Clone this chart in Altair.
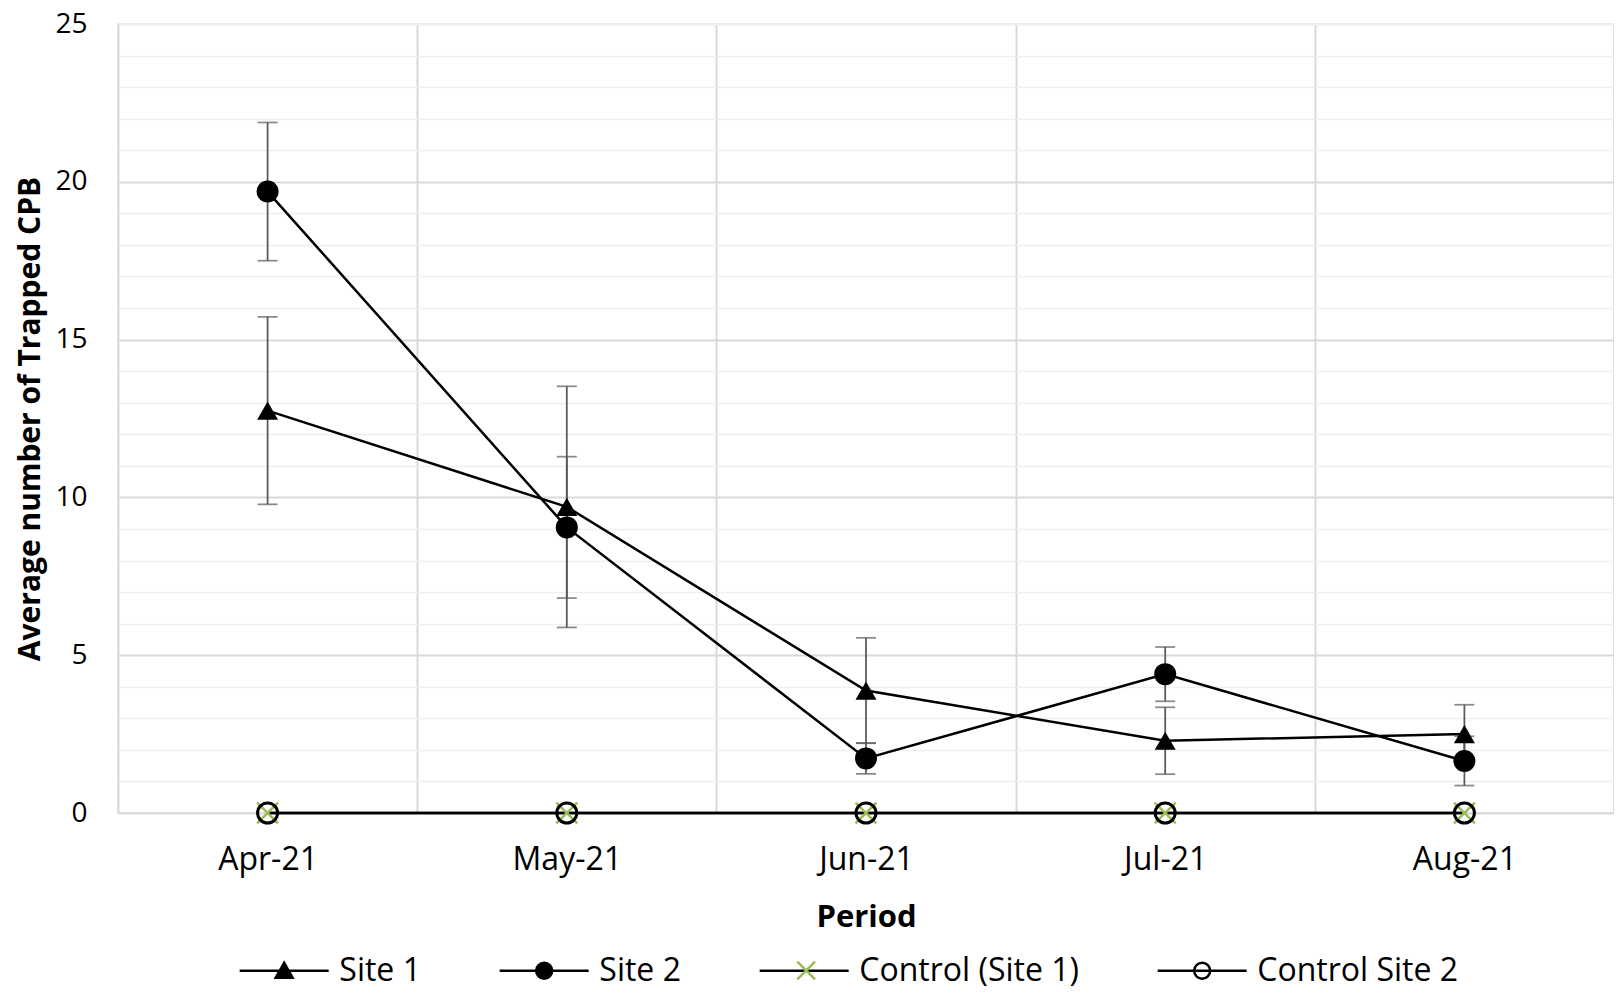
import altair as alt
import pandas as pd

months = ["Apr-21", "May-21", "Jun-21", "Jul-21", "Aug-21"]
series_names = ["Site 1", "Site 2", "Control (Site 1)", "Control Site 2"]
site1_mean = [12.75, 9.7, 3.88, 2.29, 2.5]
site1_err = [2.97, 3.82, 1.67, 1.06, 0.93]
site2_mean = [19.69, 9.05, 1.73, 4.4, 1.65]
site2_err = [2.19, 2.24, 0.49, 0.86, 0.78]
control1_mean = [0, 0, 0, 0, 0]
control1_err = [0, 0, 0, 0, 0]
control2_mean = [0, 0, 0, 0, 0]
control2_err = [0, 0, 0, 0, 0]

rows = []
for name, means, errs in zip(
    series_names,
    [site1_mean, site2_mean, control1_mean, control2_mean],
    [site1_err, site2_err, control1_err, control2_err],
):
    for m, v, e in zip(months, means, errs):
        rows.append({"month": m, "series": name, "value": v, "err": e})
df = pd.DataFrame(rows)

FONT = "Open Sans"
GREEN = "#9BBB59"
ERR = "#595959"

x_enc = alt.X(
    "month:N",
    sort=months,
    scale=alt.Scale(type="band", paddingInner=0, paddingOuter=0),
    title="Period",
    axis=alt.Axis(
        tickBand="extent",
        grid=True,
        gridColor="#d9d9d9",
        gridWidth=2,
        domain=False,
        ticks=False,
        tickSize=0,
        labelAngle=0,
        labelFont=FONT,
        labelFontSize=32,
        labelColor="black",
        labelPadding=46,
        labelBaseline="middle",
        titleFont=FONT,
        titleFontSize=31,
        titleFontWeight="bold",
        titleColor="black",
        titleY=104,
        titleBaseline="middle",
    ),
)

y_axis = alt.Axis(
    values=list(range(26)),
    grid=True,
    gridColor={
        "condition": {"test": "datum.value % 5 === 0 && datum.value < 25", "value": "#d9d9d9"},
        "value": "#efefef",
    },
    gridWidth={
        "condition": {"test": "datum.value % 5 === 0", "value": 2},
        "value": 1.5,
    },
    domain=False,
    ticks=False,
    tickSize=0,
    labelExpr="datum.value % 5 === 0 ? datum.label : ''",
    labelOverlap=False,
    labelFlush=False,
    labelFont=FONT,
    labelFontSize=28,
    labelColor="black",
    labelPadding=31,
    titleFont=FONT,
    titleFontSize=30,
    titleFontWeight="bold",
    titleColor="black",
    titleX=-88,
    titleBaseline="middle",
)
y_scale = alt.Scale(domain=[0, 25], nice=False, zero=True)
Y_TITLE = "Average number of Trapped CPB"


def y_enc(field):
    return alt.Y(field, type="quantitative", scale=y_scale, axis=y_axis, title=Y_TITLE)


base = alt.Chart(df)

err_df = base.transform_filter("datum.err > 0").transform_calculate(
    lo="datum.value - datum.err", hi="datum.value + datum.err"
)

err_rule = err_df.mark_rule(color=ERR, strokeWidth=1.75).encode(
    x=x_enc, y=y_enc("lo"), y2="hi:Q"
)
cap_lo = err_df.mark_tick(color=ERR, thickness=1.75, size=20, orient="horizontal").encode(
    x=x_enc, y=y_enc("lo")
)
cap_hi = err_df.mark_tick(color=ERR, thickness=1.75, size=20, orient="horizontal").encode(
    x=x_enc, y=y_enc("hi")
)

lines = base.mark_line(color="black", strokeWidth=2.5).encode(
    x=x_enc, y=y_enc("value"), detail="series:N"
)

pts_site1 = base.transform_filter(alt.datum.series == "Site 1").mark_point(
    shape="triangle-up", filled=True, color="black", size=441, opacity=1
).encode(x=x_enc, y=y_enc("value"))
pts_site2 = base.transform_filter(alt.datum.series == "Site 2").mark_point(
    shape="circle", filled=True, color="black", size=484, opacity=1
).encode(x=x_enc, y=y_enc("value"))
pts_c1 = base.transform_filter(alt.datum.series == "Control (Site 1)").mark_point(
    shape="M-1,-1L1,1M-1,1L1,-1", filled=False, stroke=GREEN, strokeWidth=2.5, size=440, opacity=1
).encode(x=x_enc, y=y_enc("value"))
pts_c2 = base.transform_filter(alt.datum.series == "Control Site 2").mark_point(
    shape="circle", filled=False, stroke="black", fill="transparent", strokeWidth=3, size=400, opacity=1
).encode(x=x_enc, y=y_enc("value"))

# ---- legend (guide only) ----
# symbol box is 1/3 of the drawn line length so the legend stays compact
K = 3.0
BOX = 89.0 / K
SYM = BOX * BOX
SHIFT = 44.5 - BOX / 2
LEG_X = 120 + SHIFT
LEG_Y = 930
COL_PAD = 73
LABEL_OFF = 9 + SHIFT


def sc(v):
    return f"{v * K:.4f}"


tri = f"M0,{sc(-0.18)}L{sc(0.19)},{sc(0.16)}L{sc(-0.19)},{sc(0.16)}Z"
r = sc(0.18)
circ = f"M{r},0A{r},{r},0,1,1,-{r},0A{r},{r},0,1,1,{r},0Z"
line_seg = f"M{sc(-1)},0H{sc(1)}"
legend_paths = [line_seg + tri, line_seg + circ, line_seg, line_seg + circ]

leg_main = alt.Legend(
    orient="none",
    legendX=LEG_X,
    legendY=LEG_Y,
    direction="horizontal",
    columns=4,
    title=None,
    symbolSize=SYM,
    symbolStrokeWidth=2.5,
    symbolOpacity=1,
    labelFont=FONT,
    labelFontSize=32,
    labelColor="black",
    labelOffset=LABEL_OFF,
    labelLimit=500,
    columnPadding=COL_PAD,
    rowPadding=0,
    padding=0,
)

leg_lines = base.transform_filter("datum.value < 0").mark_point(
    filled=False, color="black"
).encode(
    x=x_enc,
    y=y_enc("value"),
    shape=alt.Shape(
        "series:N",
        scale=alt.Scale(domain=series_names, range=legend_paths),
        legend=leg_main,
    ),
    fill=alt.Fill(
        "series:N",
        scale=alt.Scale(domain=series_names, range=["black", "black", "transparent", "transparent"]),
        legend=leg_main,
    ),
    stroke=alt.Stroke(
        "series:N",
        scale=alt.Scale(domain=series_names, range=["black", "black", "black", "black"]),
        legend=leg_main,
    ),
)

# green cross of the "Control (Site 1)" entry, laid over its line
x_mark = f"M{sc(-0.2)},{sc(-0.2)}L{sc(0.2)},{sc(0.2)}M{sc(-0.2)},{sc(0.2)}L{sc(0.2)},{sc(-0.2)}"
leg_cross = base.transform_filter("datum.value < 0").mark_point(
    filled=False, color=GREEN
).encode(
    x=x_enc,
    y=y_enc("value"),
    strokeDash=alt.StrokeDash(
        "series:N",
        scale=alt.Scale(domain=["Control (Site 1)"], range=[[1, 0]]),
        legend=alt.Legend(
            orient="none",
            legendX=642 + SHIFT,
            legendY=LEG_Y,
            title=None,
            symbolType=x_mark,
            symbolSize=SYM,
            symbolStrokeColor=GREEN,
            symbolFillColor="transparent",
            symbolStrokeWidth=2.5,
            symbolOpacity=1,
            labelExpr="''",
            labelFont=FONT,
            labelFontSize=32,
            labelOffset=0,
            padding=0,
        ),
    ),
)

chart = (
    alt.layer(
        err_rule, cap_lo, cap_hi, lines, pts_site1, pts_site2, pts_c1, pts_c2, leg_lines, leg_cross
    )
    .resolve_scale(
        shape="independent", fill="independent", stroke="independent", strokeDash="independent"
    )
    .properties(
        width=1496,
        height=789,
        autosize=alt.AutoSizeParams(type="none"),
        padding={"left": 110, "top": 16, "right": 0, "bottom": 177},
        background="white",
    )
    .configure_view(stroke="#e6e5de", strokeWidth=2)
)

chart.save("out.html", embed_options={"renderer": "svg", "actions": False})
